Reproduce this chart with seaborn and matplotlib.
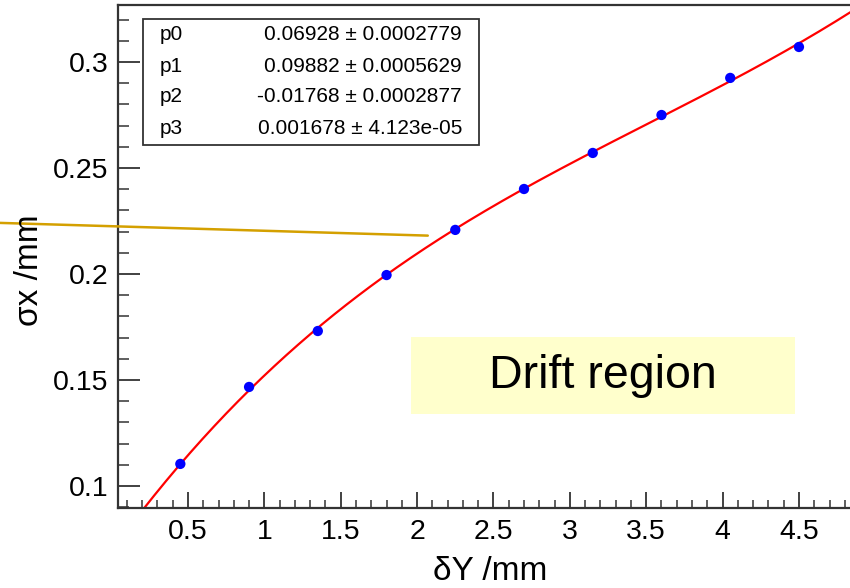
import matplotlib
matplotlib.use('Agg')
import matplotlib.pyplot as plt
from matplotlib.lines import Line2D
from matplotlib.patches import Rectangle
from matplotlib.ticker import MultipleLocator
import numpy as np
import pandas as pd
import seaborn as sns

# measured points
delta_y = [0.45, 0.90, 1.35, 1.80, 2.25, 2.70, 3.15, 3.60, 4.05, 4.50]
sigma_x = [0.1104, 0.1467, 0.1731, 0.1995, 0.2208, 0.2401, 0.2571, 0.2750, 0.2925, 0.3071]

# fit parameters shown in the stats box (pol3)
par_names = ['p0', 'p1', 'p2', 'p3']
par_values = [0.06928, 0.09882, -0.01768, 0.001678]
par_text = ['0.06928 \u00b1 0.0002779', '0.09882 \u00b1 0.0005629',
            '-0.01768 \u00b1 0.0002877', '0.001678 \u00b1 4.123e-05']

# hand-drawn pointer line (data coords), starts left of the frame
pointer_x = [-0.73, 2.07]
pointer_y = [0.2241, 0.2181]

x_min, x_max = 0.0419, 4.8996
y_min, y_max = 0.0896, 0.3269

sns.set_style('ticks')
plt.rcParams['font.family'] = ['Liberation Sans', 'DejaVu Sans']
plt.rcParams['text.color'] = 'black'
plt.rcParams['xtick.labelcolor'] = 'black'
plt.rcParams['ytick.labelcolor'] = 'black'

fig = plt.figure(figsize=(8.5, 5.88), dpi=100)
W, H = 850.0, 588.0
ax = fig.add_axes([118 / W, (H - 508) / H, (860 - 118) / W, (508 - 5) / H])

fit_x = np.linspace(0.2, x_max, 300)
fit_y = np.polyval(par_values[::-1], fit_x)
fit = pd.DataFrame({'x': fit_x, 'y': fit_y})
pts = pd.DataFrame({'x': delta_y, 'y': sigma_x})

sns.lineplot(data=fit, x='x', y='y', ax=ax, color='#ff0000', linewidth=1.6, sort=False, zorder=2)
sns.scatterplot(data=pts, x='x', y='y', ax=ax, color='#0000ff', s=55, edgecolor='none', zorder=3)

ax.set_xlim(x_min, x_max)
ax.set_ylim(y_min, y_max)
ax.set_xlabel('')
ax.set_ylabel('')

ax.xaxis.set_major_locator(MultipleLocator(0.5))
ax.xaxis.set_minor_locator(MultipleLocator(0.1))
ax.yaxis.set_major_locator(MultipleLocator(0.05))
ax.yaxis.set_minor_locator(MultipleLocator(0.01))
ax.set_xticks([0.5, 1, 1.5, 2, 2.5, 3, 3.5, 4, 4.5])
ax.set_xticklabels(['0.5', '1', '1.5', '2', '2.5', '3', '3.5', '4', '4.5'])
ax.set_yticks([0.1, 0.15, 0.2, 0.25, 0.3])
ax.set_yticklabels(['0.1', '0.15', '0.2', '0.25', '0.3'])

ax.tick_params(axis='x', which='major', direction='in', length=11.5, width=1.3,
               labelsize=20.5, pad=8, color='#333333', top=False)
ax.tick_params(axis='x', which='minor', direction='in', length=5.8, width=1.1,
               color='#333333', top=False)
ax.tick_params(axis='y', which='major', direction='in', length=16, width=1.3,
               labelsize=20.5, pad=7, color='#333333', right=False)
ax.tick_params(axis='y', which='minor', direction='in', length=8, width=1.1,
               color='#333333', right=False)
for side in ['left', 'bottom', 'top', 'right']:
    ax.spines[side].set_visible(True)
    ax.spines[side].set_linewidth(1.6)
    ax.spines[side].set_color('#333333')

# axis titles
fig.text(490 / W, 1 - 572 / H, '\u03b4Y /mm', fontsize=24, ha='center', va='center')
fig.text(29 / W, 1 - 270 / H, '\u03c3x /mm', fontsize=24, ha='center', va='center', rotation=90)

# pointer line
ax.add_line(Line2D(pointer_x, pointer_y, color='#d4a000', linewidth=1.8, clip_on=False, zorder=4))

# stats box
fig.patches.append(Rectangle((143 / W, 1 - 145 / H), (479 - 143) / W, (145 - 19) / H,
                             transform=fig.transFigure, facecolor='white',
                             edgecolor='#333333', linewidth=1.3, zorder=5))
row_y = [35, 66, 97, 128]
for name, txt, ry in zip(par_names, par_text, row_y):
    fig.text(160 / W, 1 - ry / H, name, fontsize=15, ha='left', va='center', zorder=6)
    fig.text(462 / W, 1 - ry / H, txt, fontsize=15, ha='right', va='center', zorder=6)

# label box
fig.patches.append(Rectangle((411 / W, 1 - 414 / H), (795 - 411) / W, (414 - 337) / H,
                             transform=fig.transFigure, facecolor='#ffffcc',
                             edgecolor='none', zorder=5))
fig.text(603 / W, 1 - 376 / H, 'Drift region', fontsize=33.5, ha='center', va='center', zorder=6)

plt.savefig('out.png', dpi=100)
plt.close('all')
